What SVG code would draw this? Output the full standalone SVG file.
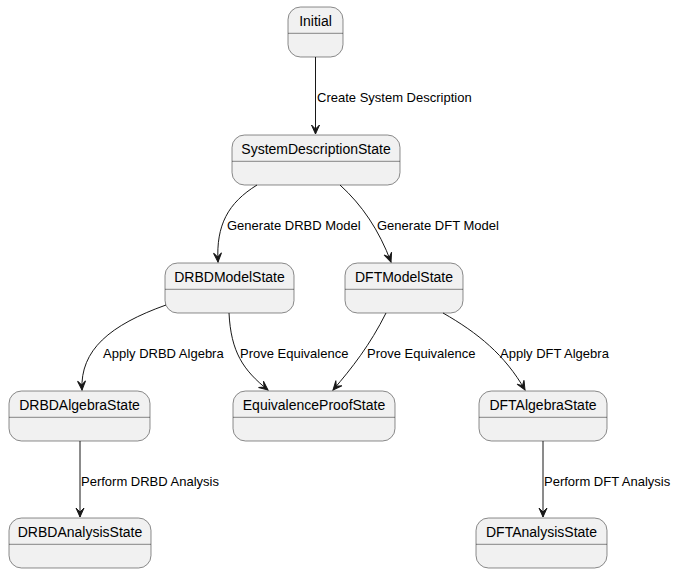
<svg xmlns="http://www.w3.org/2000/svg" width="677" height="574" viewBox="0 0 677 574">
<defs>
<style>
.st rect{fill:#F1F1F1;stroke:#181818;stroke-width:0.5}
.st line{stroke:#181818;stroke-width:0.5}
.st text{font-family:"Liberation Sans",Arial,sans-serif;font-size:14px;fill:#000000}
.e path{fill:none;stroke:#181818;stroke-width:1}
.lbl{font-family:"Liberation Sans",Arial,sans-serif;font-size:13px;fill:#000000}
</style>
<marker id="arr" markerUnits="userSpaceOnUse" markerWidth="12" markerHeight="10" viewBox="-10 -5 11 10" refX="0" refY="0" orient="auto">
<path d="M0,0 L-9,-4 L-5,0 L-9,4 Z" fill="#181818" stroke="#181818" stroke-width="1"/>
</marker>
</defs>
<rect width="677" height="574" fill="#FFFFFF"/>
<g id="Initial" class="st"><rect x="288" y="7" width="55" height="50" rx="12.5" ry="12.5"/><line x1="288" x2="343" y1="33.3" y2="33.3"/><text x="315.5" y="25.5" text-anchor="middle">Initial</text></g>
<g id="SystemDescriptionState" class="st"><rect x="232" y="135" width="168" height="50" rx="12.5" ry="12.5"/><line x1="232" x2="400" y1="161.3" y2="161.3"/><text x="316" y="153.5" text-anchor="middle">SystemDescriptionState</text></g>
<g id="DRBDModelState" class="st"><rect x="165" y="263" width="129" height="50" rx="12.5" ry="12.5"/><line x1="165" x2="294" y1="289.3" y2="289.3"/><text x="229.5" y="281.5" text-anchor="middle">DRBDModelState</text></g>
<g id="DFTModelState" class="st"><rect x="345" y="263" width="118" height="50" rx="12.5" ry="12.5"/><line x1="345" x2="463" y1="289.3" y2="289.3"/><text x="404" y="281.5" text-anchor="middle">DFTModelState</text></g>
<g id="DRBDAlgebraState" class="st"><rect x="9" y="391" width="141" height="50" rx="12.5" ry="12.5"/><line x1="9" x2="150" y1="417.3" y2="417.3"/><text x="79.5" y="409.5" text-anchor="middle">DRBDAlgebraState</text></g>
<g id="EquivalenceProofState" class="st"><rect x="233" y="391" width="162" height="50" rx="12.5" ry="12.5"/><line x1="233" x2="395" y1="417.3" y2="417.3"/><text x="314" y="409.5" text-anchor="middle">EquivalenceProofState</text></g>
<g id="DFTAlgebraState" class="st"><rect x="479" y="391" width="128" height="50" rx="12.5" ry="12.5"/><line x1="479" x2="607" y1="417.3" y2="417.3"/><text x="543" y="409.5" text-anchor="middle">DFTAlgebraState</text></g>
<g id="DRBDAnalysisState" class="st"><rect x="9" y="518" width="142" height="50" rx="12.5" ry="12.5"/><line x1="9" x2="151" y1="544.3" y2="544.3"/><text x="80" y="536.5" text-anchor="middle">DRBDAnalysisState</text></g>
<g id="DFTAnalysisState" class="st"><rect x="476" y="518" width="131" height="50" rx="12.5" ry="12.5"/><line x1="476" x2="607" y1="544.3" y2="544.3"/><text x="541.5" y="536.5" text-anchor="middle">DFTAnalysisState</text></g>
<g id="connectors" class="e">
<path d="M315.5,57 L315.5,134" marker-end="url(#arr)"/>
<path d="M257,185 C228,203 216,225 218,262" marker-end="url(#arr)"/>
<path d="M340,185 C362,205 379,230 391,262" marker-end="url(#arr)"/>
<path d="M166,305 C110,325 80,350 82,390" marker-end="url(#arr)"/>
<path d="M229,313 C231,352 243,370 268,390" marker-end="url(#arr)"/>
<path d="M386,313 C370,345 352,368 333,390" marker-end="url(#arr)"/>
<path d="M443,313 C478,333 505,355 525,390" marker-end="url(#arr)"/>
<path d="M80,441 L80,517" marker-end="url(#arr)"/>
<path d="M543,441 L543,517" marker-end="url(#arr)"/>
</g>
<g id="labels">
<text class="lbl" x="317" y="101.5">Create System Description</text>
<text class="lbl" x="227" y="229.5">Generate DRBD Model</text>
<text class="lbl" x="377" y="229.5">Generate DFT Model</text>
<text class="lbl" x="103" y="357.5">Apply DRBD Algebra</text>
<text class="lbl" x="240" y="357.5">Prove Equivalence</text>
<text class="lbl" x="367" y="357.5">Prove Equivalence</text>
<text class="lbl" x="500" y="357.5">Apply DFT Algebra</text>
<text class="lbl" x="81" y="485.5">Perform DRBD Analysis</text>
<text class="lbl" x="544" y="485.5">Perform DFT Analysis</text>
</g>
</svg>
